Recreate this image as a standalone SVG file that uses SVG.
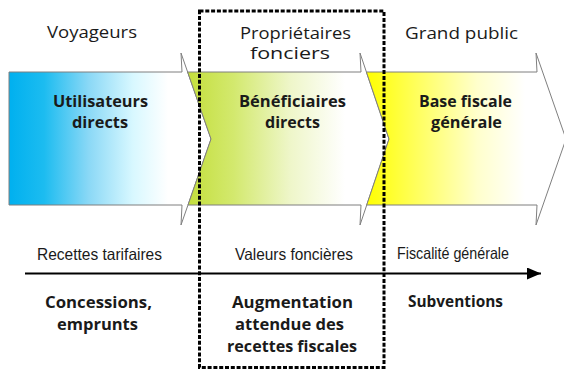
<svg xmlns="http://www.w3.org/2000/svg" width="564" height="373" viewBox="0 0 564 373">
<defs>
<linearGradient id="gBlue" gradientUnits="userSpaceOnUse" x1="9" y1="0" x2="168" y2="0">
<stop offset="0" stop-color="#00b0ef"/>
<stop offset="0.22" stop-color="#1cbcf0"/>
<stop offset="0.5" stop-color="#8ad8f6"/>
<stop offset="0.78" stop-color="#d8f8ff"/>
<stop offset="1" stop-color="#ffffff"/>
</linearGradient>
<linearGradient id="gGreen" gradientUnits="userSpaceOnUse" x1="186" y1="0" x2="345" y2="0">
<stop offset="0" stop-color="#c3de3a"/>
<stop offset="0.3" stop-color="#d3e96e"/>
<stop offset="0.65" stop-color="#eef6c8"/>
<stop offset="1" stop-color="#ffffff"/>
</linearGradient>
<linearGradient id="gYellow" gradientUnits="userSpaceOnUse" x1="366" y1="0" x2="525" y2="0">
<stop offset="0" stop-color="#ffff00"/>
<stop offset="0.35" stop-color="#ffff66"/>
<stop offset="0.7" stop-color="#ffffcc"/>
<stop offset="1" stop-color="#ffffff"/>
</linearGradient>
<marker id="axisHead" markerWidth="14" markerHeight="12" refX="14" refY="6" orient="auto" markerUnits="userSpaceOnUse">
<polygon points="0,0 14,6 0,12" fill="#000"/>
</marker>
</defs>
<style>
.arrow{stroke:#7f7f7f;stroke-width:1;stroke-linejoin:miter}
.hdr{font-family:"Open Sans","Noto Sans","Liberation Sans",sans-serif;font-size:16px;fill:#1a1a1a}
.bold{font-family:"Open Sans","Noto Sans","Liberation Sans",sans-serif;font-size:15.5px;font-weight:bold;fill:#1a1a1a}
.lbl{font-family:"Liberation Sans",Arial,sans-serif;font-size:16.5px;fill:#1a1a1a}
</style>
<rect width="564" height="373" fill="#ffffff"/>
<g id="arrow-voyageurs">
<polygon class="arrow" fill="url(#gBlue)" points="9,72 182,72 181,53 211,139 181,225 182,205 9,205"/>
<text class="bold" x="53" y="107" textLength="95" lengthAdjust="spacingAndGlyphs">Utilisateurs</text>
<text class="bold" x="72" y="128" textLength="56" lengthAdjust="spacingAndGlyphs">directs</text>
</g>
<g id="arrow-proprietaires">
<polygon class="arrow" fill="url(#gGreen)" points="187.6,72 361,72 360,53 389,139 360,225 361,205 188,205 211,139"/>
<text class="bold" x="239" y="107" textLength="107" lengthAdjust="spacingAndGlyphs">Bénéficiaires</text>
<text class="bold" x="265" y="128" textLength="55" lengthAdjust="spacingAndGlyphs">directs</text>
</g>
<g id="arrow-public">
<polygon class="arrow" fill="url(#gYellow)" points="366.4,72 537,72 536,53 566,139 536,225 537,205 366.7,205 389,139"/>
<text class="bold" x="419" y="107" textLength="93" lengthAdjust="spacingAndGlyphs">Base fiscale</text>
<text class="bold" x="431" y="128" textLength="71" lengthAdjust="spacingAndGlyphs">générale</text>
</g>
<g id="headers">
<text class="hdr" x="47" y="38" textLength="90" lengthAdjust="spacingAndGlyphs">Voyageurs</text>
<text class="hdr" x="240" y="39" textLength="111" lengthAdjust="spacingAndGlyphs">Propriétaires</text>
<text class="hdr" x="250" y="59" textLength="80" lengthAdjust="spacingAndGlyphs">fonciers</text>
<text class="hdr" x="405" y="39" textLength="113" lengthAdjust="spacingAndGlyphs">Grand public</text>
</g>
<g id="connectors">
<line x1="25" y1="273.5" x2="541" y2="273.5" stroke="#000" stroke-width="2.2" marker-end="url(#axisHead)"/>
</g>
<g id="axis-labels">
<text class="lbl" x="37" y="260" textLength="125" lengthAdjust="spacingAndGlyphs">Recettes tarifaires</text>
<text class="lbl" x="235" y="260" textLength="118" lengthAdjust="spacingAndGlyphs">Valeurs foncières</text>
<text class="lbl" x="397" y="259" textLength="112" lengthAdjust="spacingAndGlyphs">Fiscalité générale</text>
</g>
<g id="funding">
<text class="bold" x="45" y="308" textLength="107" lengthAdjust="spacingAndGlyphs">Concessions,</text>
<text class="bold" x="57" y="330" textLength="81" lengthAdjust="spacingAndGlyphs">emprunts</text>
<text class="bold" x="232" y="308" textLength="121" lengthAdjust="spacingAndGlyphs">Augmentation</text>
<text class="bold" x="235" y="330" textLength="109" lengthAdjust="spacingAndGlyphs">attendue des</text>
<text class="bold" x="227" y="352" textLength="130" lengthAdjust="spacingAndGlyphs">recettes fiscales</text>
<text class="bold" x="408" y="307" textLength="95" lengthAdjust="spacingAndGlyphs">Subventions</text>
</g>
<g id="highlight-box">
<rect x="199.5" y="11" width="184.5" height="356.5" fill="none" stroke="#000" stroke-width="3" stroke-dasharray="4 1.8"/>
</g>
</svg>
